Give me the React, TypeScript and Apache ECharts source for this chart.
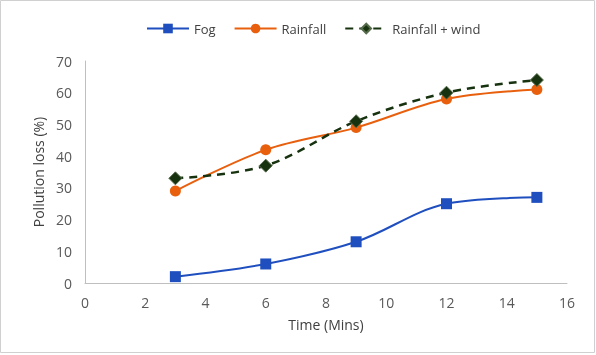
import React, { useEffect, useRef } from "react";
import * as echarts from "echarts";

const times = [3, 6, 9, 12, 15];
const fog = [2, 6, 13, 25, 27];
const rainfall = [29, 42, 49, 58, 61];
const rainfallWind = [33, 37, 51, 60, 64];
const seriesNames = ["Fog", "Rainfall", "Rainfall + wind"];

export default function App() {
  const ref = useRef<HTMLDivElement>(null);
  useEffect(() => {
    if (!ref.current) return;
    const chart = echarts.init(ref.current, null, { renderer: "svg" });
    const font = "Open Sans";
    const pair = (ys: number[]) => times.map((t, i) => [t, ys[i]]);
    chart.setOption({
      animation: false,
      textStyle: { fontFamily: font },
      graphic: [
        {
          type: "rect",
          shape: { x: 0.5, y: 0.5, width: 594, height: 352 },
          style: { fill: "none", stroke: "#d0d0d0", lineWidth: 1 },
        },
      ],
      legend: {
        top: 17,
        left: 141,
        itemWidth: 42,
        itemHeight: 12,
        itemGap: 18,
        textStyle: { fontSize: 13, color: "#404040", fontFamily: font },
        data: seriesNames,
      },
      grid: { left: 85, right: 29, top: 61, bottom: 72 },
      xAxis: {
        type: "value",
        min: 0,
        max: 16,
        interval: 2,
        name: "Time (Mins)",
        nameLocation: "middle",
        nameGap: 34,
        nameTextStyle: { fontSize: 14, color: "#404040" },
        axisLine: { lineStyle: { color: "#bfbfbf" } },
        axisTick: { show: false },
        splitLine: { show: false },
        axisLabel: { fontSize: 14, color: "#595959", margin: 12 },
      },
      yAxis: {
        type: "value",
        min: 0,
        max: 70,
        interval: 10,
        name: "Pollution loss (%)",
        nameLocation: "middle",
        nameGap: 30,
        nameTextStyle: { fontSize: 14, color: "#404040" },
        axisLine: { show: true, lineStyle: { color: "#bfbfbf" } },
        axisTick: { show: false },
        splitLine: { show: false },
        axisLabel: { fontSize: 14, color: "#595959", margin: 13 },
      },
      series: [
        {
          name: seriesNames[0],
          type: "line",
          smooth: 0.35,
          data: pair(fog),
          symbol: "rect",
          symbolSize: 11,
          itemStyle: { color: "#1f4fbf" },
          lineStyle: { color: "#1f4fbf", width: 2 },
        },
        {
          name: seriesNames[1],
          type: "line",
          smooth: 0.35,
          data: pair(rainfall),
          symbol: "circle",
          symbolSize: 11,
          itemStyle: { color: "#e8600e" },
          lineStyle: { color: "#e8600e", width: 2 },
        },
        {
          name: seriesNames[2],
          type: "line",
          smooth: 0.35,
          data: pair(rainfallWind),
          symbol: "diamond",
          symbolSize: 13,
          itemStyle: { color: "#17320f", borderColor: "#556b4a", borderWidth: 1 },
          lineStyle: { color: "#17320f", width: 2.5, type: [8, 6] },
        },
      ],
    });
    return () => chart.dispose();
  }, []);
  return (
    <div
      ref={ref}
      style={{ position: "fixed", left: 0, top: 0, width: 596, height: 355 }}
    />
  );
}
